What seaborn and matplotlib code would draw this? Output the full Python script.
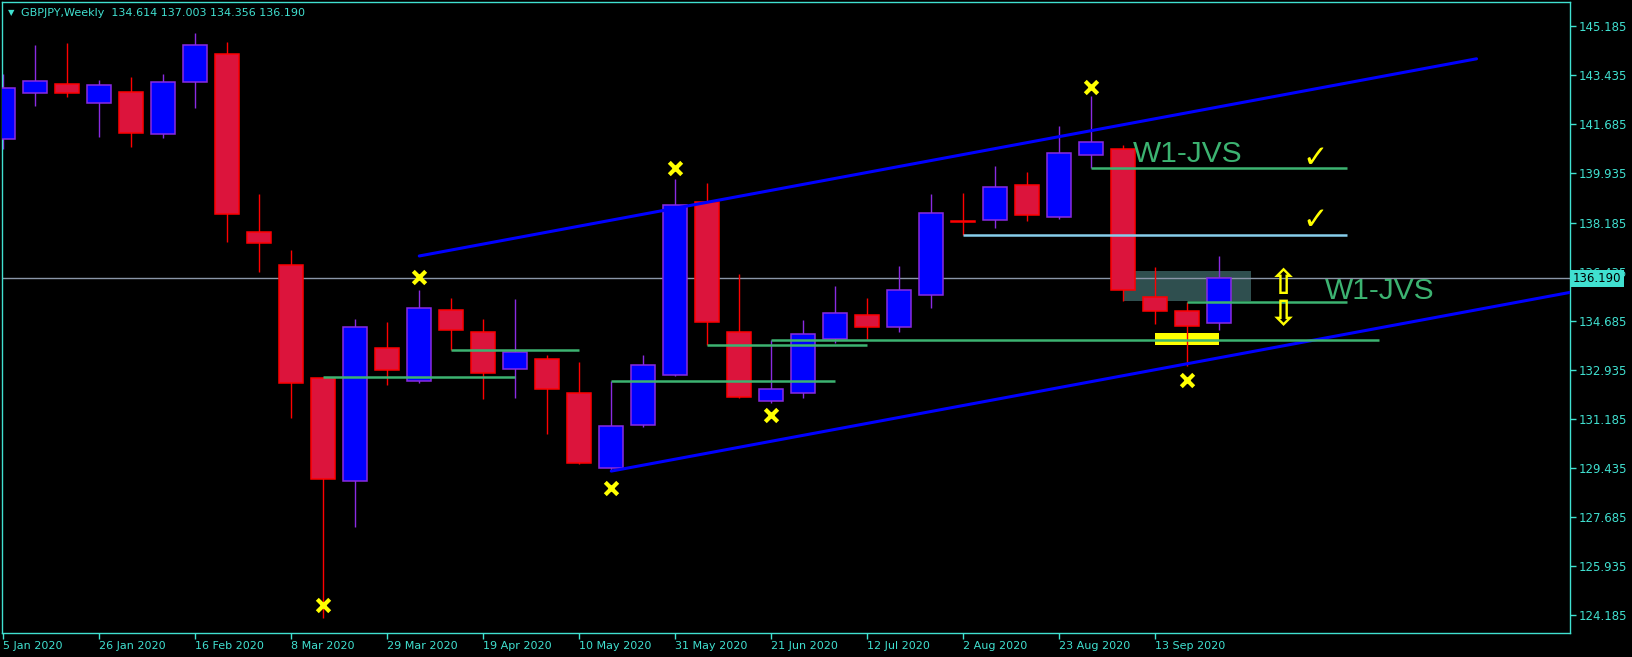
import numpy as np
import pandas as pd
import seaborn as sns
import matplotlib.pyplot as plt
import matplotlib.transforms as mtransforms
from matplotlib.patches import Rectangle

# GBPJPY weekly candles, 5 Jan 2020 .. 27 Sep 2020
opens = [141.15, 142.80, 143.13, 142.44, 142.83, 141.33, 143.19, 144.19, 137.85, 136.66,
         132.63, 128.95, 133.70, 132.52, 135.06, 134.28, 132.96, 133.31, 132.10, 129.41,
         130.94, 132.73, 138.92, 134.26, 131.80, 132.09, 134.01, 134.87, 134.44, 135.59,
         138.23, 138.26, 139.52, 138.37, 140.58, 140.81, 135.51, 135.01, 134.614]
highs = [143.49, 144.52, 144.59, 143.27, 143.38, 143.49, 144.95, 144.63, 139.20, 137.20,
         132.67, 134.74, 134.63, 135.77, 135.49, 134.74, 135.45, 133.45, 133.20, 132.53,
         133.45, 139.74, 139.59, 136.35, 133.99, 134.70, 135.92, 135.49, 136.63, 139.20,
         139.24, 140.20, 140.00, 141.63, 142.70, 140.95, 136.58, 135.34, 137.003]
lows = [140.82, 142.34, 142.66, 141.25, 140.88, 141.21, 142.28, 137.50, 136.43, 131.22,
        124.05, 127.32, 132.38, 132.45, 133.63, 131.88, 131.92, 130.63, 129.56, 129.32,
        130.88, 132.70, 133.81, 131.93, 131.73, 131.93, 133.89, 134.01, 134.29, 135.14,
        137.74, 138.00, 138.25, 138.30, 140.12, 135.39, 134.56, 133.06, 134.356]
closes = [142.98, 143.23, 142.80, 143.08, 141.39, 143.19, 144.51, 138.48, 137.44, 132.47,
          129.02, 134.45, 132.93, 135.12, 134.36, 132.82, 133.55, 132.25, 129.61, 130.91,
          133.09, 138.80, 134.64, 131.97, 132.23, 134.19, 134.94, 134.46, 135.76, 138.51,
          138.22, 139.44, 138.46, 140.66, 141.05, 135.79, 135.04, 134.50, 136.190]

date_labels = ['5 Jan 2020', '26 Jan 2020', '16 Feb 2020', '8 Mar 2020', '29 Mar 2020',
               '19 Apr 2020', '10 May 2020', '31 May 2020', '21 Jun 2020', '12 Jul 2020',
               '2 Aug 2020', '23 Aug 2020', '13 Sep 2020']
price_ticks = [124.185, 125.935, 127.685, 129.435, 131.185, 132.935, 134.685,
               136.435, 138.185, 139.935, 141.685, 143.435, 145.185]
last_price = 136.190

# objects drawn on the chart (bar index, price)
upper_x = [13, 46.04]
upper_y = [136.99, 144.03]
lower_x = [19, 48.96]
lower_y = [129.31, 135.69]

level_start = [10, 14, 19, 22, 24, 34, 37]
level_end = [16, 18, 26, 27, 43, 42, 42]
level_price = [132.67, 133.63, 132.53, 133.81, 133.99, 140.12, 135.34]

sky_start, sky_end, sky_price = 30, 42, 137.75

cross_x = [10, 13, 19, 21, 24, 34, 37]
cross_y = [124.53, 136.23, 128.69, 140.14, 131.31, 143.03, 132.56]

zone_x = [35, 39]
zone_y = [135.39, 136.45]
yellow_x = [36, 38]
yellow_y = [133.81, 134.24]

label_x = [35.31, 41.30]
label_y = [140.33, 135.44]
check_x = [41.0, 41.0]
check_y = [140.48, 138.27]
arrow_x = [40.0, 40.0]
arrow_y = [135.99, 134.88]

TURQ = '#40e0d0'

sns.set_theme(style='dark', rc={'axes.facecolor': 'black', 'figure.facecolor': 'black',
                                'axes.edgecolor': TURQ, 'axes.grid': False})
plt.rcParams['font.family'] = ['DejaVu Sans']

df = pd.DataFrame({'o': opens, 'h': highs, 'l': lows, 'c': closes})
df['x'] = np.arange(len(df))
bull = (df['c'] > df['o']).values

fig = plt.figure(figsize=(16.33, 6.57), dpi=100)
ax = fig.add_axes([0.0014, 0.0371, 0.9600, 0.9591])

# background rectangles + bid line
ax.add_patch(Rectangle((zone_x[0], zone_y[0]), zone_x[1] - zone_x[0], zone_y[1] - zone_y[0],
                       facecolor='#2f4f4f', lw=0, zorder=1))
ax.add_patch(Rectangle((yellow_x[0], yellow_y[0]), yellow_x[1] - yellow_x[0], yellow_y[1] - yellow_y[0],
                       facecolor='#ffff00', lw=0, zorder=1))
ax.axhline(last_price, color='#8a96a8', lw=1, zorder=1.5)

# candles
wick_col = np.where(bull, '#8a2be2', '#ff0000')
body_col = np.where(bull, '#0000ff', '#dc143c')
ax.vlines(df['x'], df['l'], df['h'], colors=wick_col, lw=1.0, zorder=2)
body = np.maximum((df['c'] - df['o']).abs(), 0.02)
ax.bar(df['x'], body, bottom=np.minimum(df['o'], df['c']), width=0.76,
       color=body_col, edgecolor=wick_col, linewidth=1.1, zorder=3)

# channel
sns.lineplot(x=upper_x, y=upper_y, color='#0000ff', lw=2.2, ax=ax, zorder=4)
sns.lineplot(x=lower_x, y=lower_y, color='#0000ff', lw=2.2, ax=ax, zorder=4)

# levels
ax.hlines(level_price, level_start, level_end, colors='#3cb371', lw=1.8, zorder=4)
ax.hlines(sky_price, sky_start, sky_end, colors='#87ceeb', lw=1.8, zorder=4)

# swing crosses
sns.scatterplot(x=cross_x, y=cross_y, marker='x', s=80, color='#ffff00',
                linewidth=3.0, ax=ax, zorder=5)

for lx, ly in zip(label_x, label_y):
    ax.text(lx, ly, 'W1-JVS', color='#3cb371', fontsize=21.5, family=['Liberation Sans'],
            ha='left', va='baseline', zorder=6)
for cx, cy in zip(check_x, check_y):
    ax.text(cx, cy, '\u2713', color='#ffff00', fontsize=22, fontweight='bold',
            ha='center', va='center', zorder=6)
ax.text(arrow_x[0], arrow_y[0], '\u21e7', color='#ffff00', fontsize=25, fontweight='bold',
        ha='center', va='center', zorder=6)
ax.text(arrow_x[1], arrow_y[1], '\u21e9', color='#ffff00', fontsize=25, fontweight='bold',
        ha='center', va='center', zorder=6)

ax.set_xlim(-0.031, 48.96)
ax.set_ylim(123.543, 146.04)

ax.set_xticks(df['x'][::3])
ax.set_xticklabels(date_labels, ha='left')
ax.yaxis.tick_right()
ax.set_yticks(price_ticks)
ax.set_yticklabels([f'{v:.3f}' for v in price_ticks])
ax.tick_params(axis='x', colors=TURQ, labelcolor=TURQ, length=4, width=1, pad=2,
               labelsize=8, direction='out', bottom=True)
ax.tick_params(axis='y', colors=TURQ, labelcolor=TURQ, length=4, width=1, pad=2,
               labelsize=8.5, direction='out', right=True, left=False)
for sp in ax.spines.values():
    sp.set_visible(True)
    sp.set_color(TURQ)
    sp.set_linewidth(1)
ax.set_xlabel('')
ax.set_ylabel('')

# current price tag
trans = mtransforms.blended_transform_factory(ax.transAxes, ax.transData)
ax.text(1.002, last_price, '136.190', transform=trans, ha='left', va='center', fontsize=8.5,
        color='black', clip_on=False, zorder=10,
        bbox=dict(boxstyle='square,pad=0.2', facecolor=TURQ, edgecolor='none'))

# header
fig.text(11 / 1633, 1 - 13 / 657, '\u25bc', color=TURQ, fontsize=6, ha='center', va='center')
fig.text(21 / 1633, 1 - 13 / 657, 'GBPJPY,Weekly  134.614 137.003 134.356 136.190',
         color=TURQ, fontsize=8, ha='left', va='center')

fig.savefig('out.png', dpi=100, facecolor='black')
